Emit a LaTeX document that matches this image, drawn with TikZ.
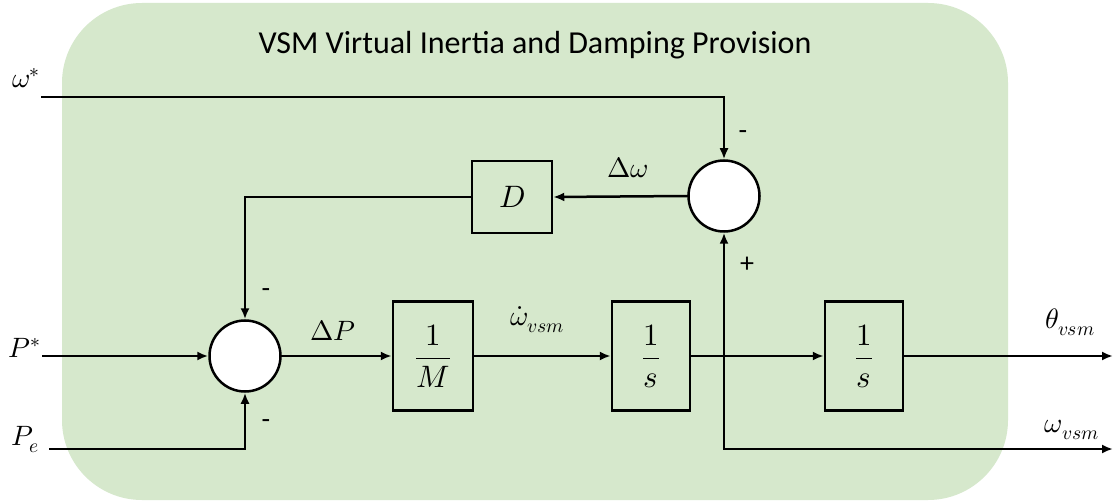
\documentclass[tikz,border=0pt]{standalone}
\usepackage{fontspec}
\usepackage{unicode-math}
\setmathfont{Latin Modern Math}
\newfontfamily\titlefont{Carlito}
\usetikzlibrary{arrows.meta}
\definecolor{panelgreen}{RGB}{214,232,204}
\tikzset{
  wire/.style={line width=2.5pt, line cap=rect},
  arr/.style={wire, -{Latex[length=11pt,width=9pt]}},
  sumc/.style={circle, draw, line width=2.5pt, fill=white, minimum size=71pt, inner sep=0pt},
  blk/.style={draw, line width=2.5pt, inner sep=0pt, font=\fontsize{31}{36}\selectfont},
  lbl/.style={inner sep=0pt, font=\fontsize{28}{32}\selectfont},
  sgn/.style={inner sep=0pt, font=\titlefont\fontsize{28}{32}\selectfont},
}
\begin{document}
\begin{tikzpicture}[x=1pt,y=-1pt]
\useasboundingbox (0,0) rectangle (1115,502);
\fill[white] (0,0) rectangle (1115,502);
\fill[panelgreen, rounded corners=80pt] (62,3) rectangle (1008,500);
\node[inner sep=0pt, font=\titlefont\fontsize{32}{36}\selectfont] (title) at (535,45) {VSM Virtual Inertia and Damping Provision};

% blocks
\node[sumc] (c1) at (724,196) {};
\node[sumc] (c2) at (245,356) {};
\node[blk, minimum width=80pt, minimum height=72pt] (D) at (512,197) {$D$};
\node[blk, minimum width=80pt, minimum height=109pt] (M) at (433,356) {$\dfrac{1}{M}$};
\node[blk, minimum width=78pt, minimum height=109pt] (s1) at (651,356) {$\dfrac{1}{s}$};
\node[blk, minimum width=78pt, minimum height=109pt] (s2) at (864,356) {$\dfrac{1}{s}$};

% endpoints
\coordinate (win) at (42,97);
\coordinate (Pin) at (43,356);
\coordinate (Pe) at (50,449);
\coordinate (j) at (724,356);
\coordinate (thout) at (1113,356);
\coordinate (wout) at (1113,449);

% connectors
\draw[arr] (win) -| (c1.north);
\draw[arr] (c1.west) -- (D.east);
\draw[arr] (D.west) -| (c2.north);
\draw[arr] (Pin) -- (c2.west);
\draw[arr] (Pe) -| (c2.south);
\draw[arr] (c2.east) -- (M.west);
\draw[arr] (M.east) -- (s1.west);
\draw[arr] (s1.east) -- (s2.west);
\draw[arr] (s2.east) -- (thout);
\draw[arr] (j) -- (c1.south);
\draw[arr] (j) |- (wout);

% labels
\node[lbl] (lw) at (26,78) {$\omega^{*}$};
\node[lbl] (lp) at (25,348) {$P^{*}$};
\node[lbl] (lpe) at (25,440) {$P_{e}$};
\node[lbl] (ldp) at (333,330) {$\Delta P$};
\node[lbl] (ldw) at (628,168) {$\Delta\omega$};
\node[lbl] (lwd) at (537,320) {$\dot{\omega}_{vsm}$};
\node[lbl] (lth) at (1070,322) {$\theta_{vsm}$};
\node[lbl] (lwv) at (1072,430) {$\omega_{vsm}$};
\node[sgn] (s-a) at (743,135) {-};
\node[sgn] (s-b) at (747,265) {+};
\node[sgn] (s-c) at (266,293) {-};
\node[sgn] (s-d) at (266,424) {-};
\end{tikzpicture}
\end{document}
